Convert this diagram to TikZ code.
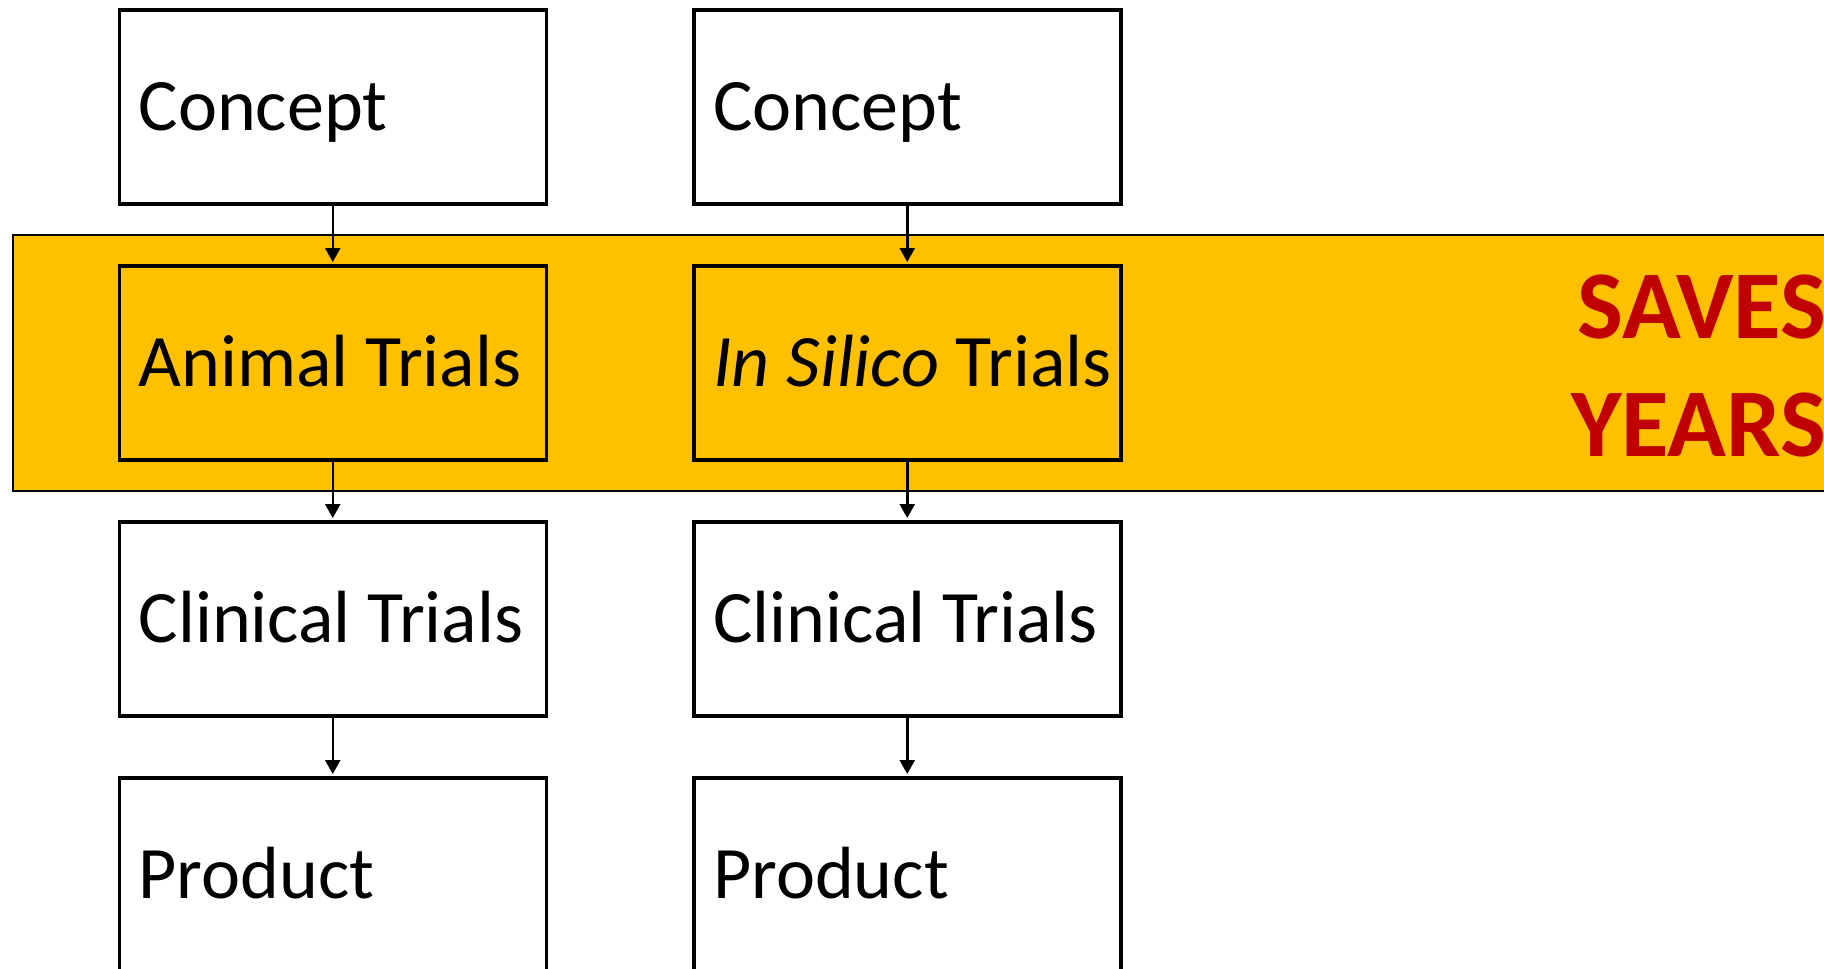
\documentclass[tikz,border=0pt]{standalone}
\usepackage{fontspec}
\setmainfont{Carlito}
\usetikzlibrary{arrows.meta}
\definecolor{bandorange}{HTML}{FFC000}
\definecolor{savered}{HTML}{C00000}
\tikzset{
  stage/.style={draw=black, line width=3.5pt, minimum width=427pt, minimum height=194pt,
    inner sep=0pt, anchor=north west, fill=white},
  inband/.style={stage, fill=bandorange},
  stagetext/.style={font=\fontsize{74}{89}\selectfont, text height=48pt, text depth=0pt,
    inner sep=0pt, anchor=west},
  flow/.style={line width=2.5pt, -{Triangle[length=14pt,width=15pt]}, shorten >=2pt},
}
\begin{document}
\begin{tikzpicture}[x=1pt,y=-1pt]
\useasboundingbox (0,0) rectangle (1824,969);
\clip (0,0) rectangle (1824,969);
\fill[white] (0,0) rectangle (1824,969);

% highlighted band across the trial stage
\node[draw=black, line width=2pt, fill=bandorange, minimum width=1900pt, minimum height=256pt,
  inner sep=0pt, anchor=north west] (band) at (12.3,234) {};

% left pipeline
\node[stage]  (c1) at (117.5,8)   {};
\node[inband] (a1) at (117.5,264) {};
\node[stage]  (k1) at (117.5,520) {};
\node[stage]  (p1) at (117.5,776) {};

% right pipeline
\node[stage]  (c2) at (692,8)   {};
\node[inband] (a2) at (692,264) {};
\node[stage]  (k2) at (692,520) {};
\node[stage]  (p2) at (692,776) {};

% stage labels
\node[stagetext] (tc1) at ([xshift=21pt]c1.west) {Concept};
\node[stagetext] (ta1) at ([xshift=21pt]a1.west) {Animal Trials};
\node[stagetext] (tk1) at ([xshift=21pt]k1.west) {Clinical Trials};
\node[stagetext] (tp1) at ([xshift=21pt]p1.west) {Product};
\node[stagetext] (tc2) at ([xshift=21pt]c2.west) {Concept};
\node[stagetext] (ta2) at ([xshift=21pt]a2.west) {\textit{In Silico} Trials};
\node[stagetext] (tk2) at ([xshift=21pt]k2.west) {Clinical Trials};
\node[stagetext] (tp2) at ([xshift=21pt]p2.west) {Product};

% connectors
\draw[flow] (c1.south) -- (a1.north);
\draw[flow] (a1.south) -- (k1.north);
\draw[flow] (k1.south) -- (p1.north);
\draw[flow] (c2.south) -- (a2.north);
\draw[flow] (a2.south) -- (k2.north);
\draw[flow] (k2.south) -- (p2.north);

% callout
\node[font=\bfseries\fontsize{97}{118}\selectfont, text=savered, align=right,
  inner sep=0pt, anchor=east] (saves) at (1826,366) {SAVES\\YEARS};
\end{tikzpicture}
\end{document}
